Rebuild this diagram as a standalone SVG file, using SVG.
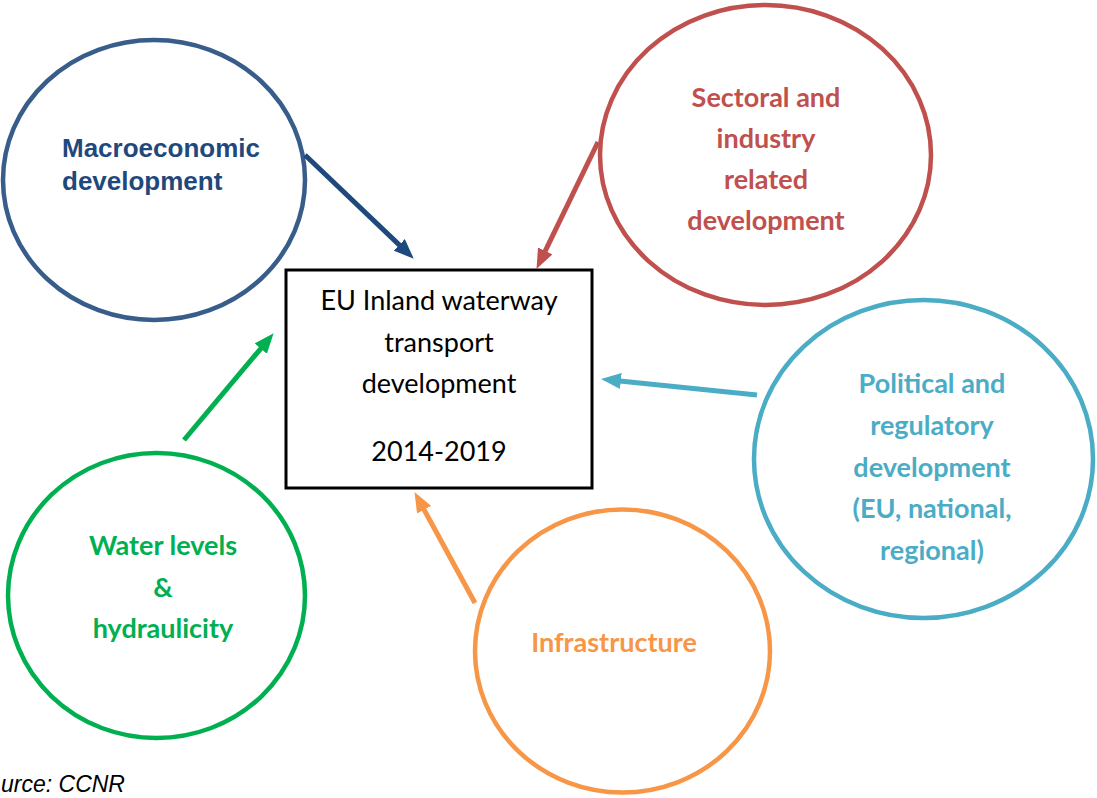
<svg xmlns="http://www.w3.org/2000/svg" width="1097" height="798" viewBox="0 0 1097 798">
<style>
.c{fill:none;stroke-width:4.5}
.lbl{font-family:Lato,"Open Sans",sans-serif;font-weight:bold;font-size:27px;text-anchor:middle}
.box{font-family:Lato,"Open Sans",sans-serif;font-size:27px;text-anchor:middle;fill:#000}
.a{stroke-width:5;fill:none}
</style>
<defs>
<marker id="mb" markerUnits="userSpaceOnUse" markerWidth="20" markerHeight="16" viewBox="0 0 20 16" refX="1" refY="8" orient="auto"><path d="M0,0 L20,8 L0,16 z" fill="#1F497D"/></marker>
<marker id="mr" markerUnits="userSpaceOnUse" markerWidth="20" markerHeight="16" viewBox="0 0 20 16" refX="1" refY="8" orient="auto"><path d="M0,0 L20,8 L0,16 z" fill="#C0504D"/></marker>
<marker id="mt" markerUnits="userSpaceOnUse" markerWidth="20" markerHeight="16" viewBox="0 0 20 16" refX="1" refY="8" orient="auto"><path d="M0,0 L20,8 L0,16 z" fill="#4BACC6"/></marker>
<marker id="mo" markerUnits="userSpaceOnUse" markerWidth="20" markerHeight="16" viewBox="0 0 20 16" refX="1" refY="8" orient="auto"><path d="M0,0 L20,8 L0,16 z" fill="#F79646"/></marker>
<marker id="mg" markerUnits="userSpaceOnUse" markerWidth="20" markerHeight="16" viewBox="0 0 20 16" refX="1" refY="8" orient="auto"><path d="M0,0 L20,8 L0,16 z" fill="#00B050"/></marker>
</defs>
<rect width="1097" height="798" fill="#fff"/>

<g id="macro">
<ellipse class="c" cx="154" cy="180" rx="151" ry="140" stroke="#385D8A"/>
<text x="62" y="157" font-family="'Liberation Sans',Arial,sans-serif" font-weight="bold" font-size="26" fill="#1F497D">Macroeconomic</text>
<text x="62" y="190" font-family="'Liberation Sans',Arial,sans-serif" font-weight="bold" font-size="26" fill="#1F497D">development</text>
</g>

<g id="sectoral">
<ellipse class="c" cx="765.5" cy="155" rx="165.5" ry="150" stroke="#C0504D"/>
<text class="lbl" fill="#C0504D"><tspan x="766" y="107">Sectoral and</tspan><tspan x="766" y="148">industry</tspan><tspan x="766" y="189">related</tspan><tspan x="766" y="230">development</tspan></text>
</g>

<g id="political">
<ellipse class="c" cx="923.5" cy="459" rx="169.5" ry="159" stroke="#4BACC6"/>
<text class="lbl" fill="#4BACC6"><tspan x="932" y="393">Political and</tspan><tspan x="932" y="435">regulatory</tspan><tspan x="932" y="477">development</tspan><tspan x="932" y="518">(EU, national,</tspan><tspan x="932" y="560">regional)</tspan></text>
</g>

<g id="water">
<ellipse class="c" cx="156.5" cy="595.5" rx="148.5" ry="142.5" stroke="#00B050"/>
<text class="lbl" fill="#00B050"><tspan x="163" y="555">Water levels</tspan><tspan x="163" y="597">&amp;</tspan><tspan x="163" y="638">hydraulicity</tspan></text>
</g>

<g id="infrastructure">
<ellipse class="c" cx="622.5" cy="651" rx="147.5" ry="141.5" stroke="#F79646"/>
<text class="lbl" fill="#F79646" x="614" y="652">Infrastructure</text>
</g>

<g id="center">
<rect x="286" y="270" width="306" height="218" fill="#fff" stroke="#000" stroke-width="3"/>
<text class="box"><tspan x="439" y="310">EU Inland waterway</tspan><tspan x="439" y="352">transport</tspan><tspan x="439" y="393">development</tspan><tspan x="439" y="461">2014-2019</tspan></text>
</g>

<g id="connectors">
<line class="a" x1="305" y1="155" x2="400" y2="245.6" stroke="#1F497D" marker-end="url(#mb)"/>
<line class="a" x1="598" y1="142" x2="544.8" y2="251.8" stroke="#C0504D" marker-end="url(#mr)"/>
<line class="a" x1="757" y1="395" x2="619.9" y2="380.9" stroke="#4BACC6" marker-end="url(#mt)"/>
<line class="a" x1="475" y1="603" x2="423.6" y2="508.8" stroke="#F79646" marker-end="url(#mo)"/>
<line class="a" x1="184" y1="440" x2="261.4" y2="347.8" stroke="#00B050" marker-end="url(#mg)"/>
</g>

<text x="1" y="792" font-family="'Liberation Sans',Arial,sans-serif" font-style="italic" font-size="23" fill="#000">urce: CCNR</text>
</svg>
